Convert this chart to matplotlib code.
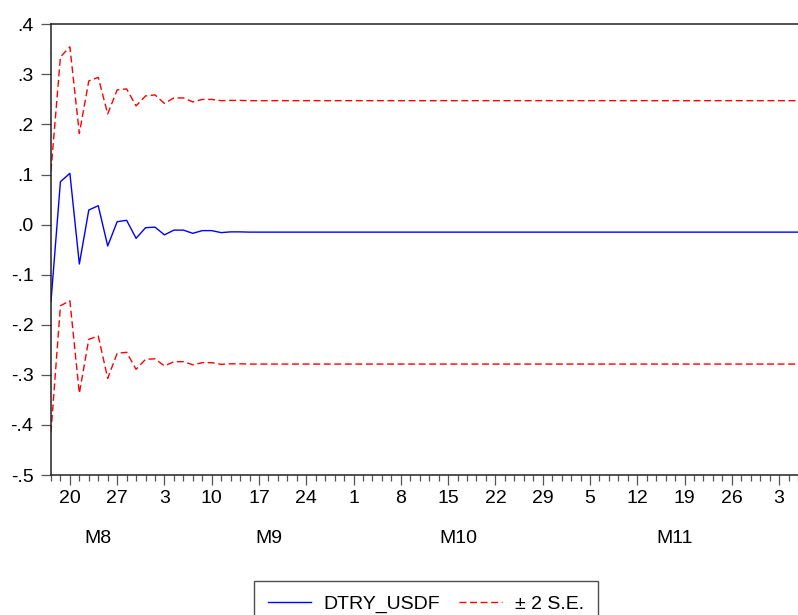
import numpy as np
import pandas as pd
import matplotlib
matplotlib.use("Agg")
import matplotlib.pyplot as plt
import matplotlib.transforms as mtransforms

plt.rcParams['font.family'] = ['Liberation Sans', 'DejaVu Sans']

# ---- data (business days starting 2018-08-16) ----
start_date = "2018-08-16"
n_obs = 80

forecast = [
    -0.154, 0.0857, 0.1024, -0.0787, 0.0292, 0.0377, -0.0427, 0.0058, 0.0086, -0.0274,
    -0.0062, -0.0050, -0.0205, -0.0110, -0.0110, -0.0174, -0.0120, -0.0120, -0.0160, -0.0145,
    -0.0145, -0.0150, -0.0150, -0.0150, -0.0150, -0.0150, -0.0150, -0.0150, -0.0150, -0.0150,
    -0.0150, -0.0150, -0.0150, -0.0150, -0.0150, -0.0150, -0.0150, -0.0150, -0.0150, -0.0150,
    -0.0150, -0.0150, -0.0150, -0.0150, -0.0150, -0.0150, -0.0150, -0.0150, -0.0150, -0.0150,
    -0.0150, -0.0150, -0.0150, -0.0150, -0.0150, -0.0150, -0.0150, -0.0150, -0.0150, -0.0150,
    -0.0150, -0.0150, -0.0150, -0.0150, -0.0150, -0.0150, -0.0150, -0.0150, -0.0150, -0.0150,
    -0.0150, -0.0150, -0.0150, -0.0150, -0.0150, -0.0150, -0.0150, -0.0150, -0.0150, -0.0150,
]

upper = [
    0.107, 0.335, 0.355, 0.182, 0.287, 0.294, 0.221, 0.269, 0.271, 0.237,
    0.257, 0.259, 0.242, 0.253, 0.253, 0.245, 0.250, 0.250, 0.2475, 0.248,
    0.248, 0.2475, 0.2475, 0.2475, 0.2475, 0.2475, 0.2475, 0.2475, 0.2475, 0.2475,
    0.2475, 0.2475, 0.2475, 0.2475, 0.2475, 0.2475, 0.2475, 0.2475, 0.2475, 0.2475,
    0.2475, 0.2475, 0.2475, 0.2475, 0.2475, 0.2475, 0.2475, 0.2475, 0.2475, 0.2475,
    0.2475, 0.2475, 0.2475, 0.2475, 0.2475, 0.2475, 0.2475, 0.2475, 0.2475, 0.2475,
    0.2475, 0.2475, 0.2475, 0.2475, 0.2475, 0.2475, 0.2475, 0.2475, 0.2475, 0.2475,
    0.2475, 0.2475, 0.2475, 0.2475, 0.2475, 0.2475, 0.2475, 0.2475, 0.2475, 0.2475,
]

lower = [
    -0.415, -0.162, -0.152, -0.337, -0.229, -0.2225, -0.307, -0.257, -0.255, -0.289,
    -0.269, -0.268, -0.2823, -0.2737, -0.2737, -0.280, -0.2757, -0.2757, -0.279, -0.278,
    -0.278, -0.2785, -0.2785, -0.2785, -0.2785, -0.2785, -0.2785, -0.2785, -0.2785, -0.2785,
    -0.2785, -0.2785, -0.2785, -0.2785, -0.2785, -0.2785, -0.2785, -0.2785, -0.2785, -0.2785,
    -0.2785, -0.2785, -0.2785, -0.2785, -0.2785, -0.2785, -0.2785, -0.2785, -0.2785, -0.2785,
    -0.2785, -0.2785, -0.2785, -0.2785, -0.2785, -0.2785, -0.2785, -0.2785, -0.2785, -0.2785,
    -0.2785, -0.2785, -0.2785, -0.2785, -0.2785, -0.2785, -0.2785, -0.2785, -0.2785, -0.2785,
    -0.2785, -0.2785, -0.2785, -0.2785, -0.2785, -0.2785, -0.2785, -0.2785, -0.2785, -0.2785,
]

y_ticks = [0.4, 0.3, 0.2, 0.1, 0.0, -0.1, -0.2, -0.3, -0.4, -0.5]
y_tick_labels = [".4", ".3", ".2", ".1", ".0", "-.1", "-.2", "-.3", "-.4", "-.5"]
month_labels = ["M8", "M9", "M10", "M11"]
series_name = "DTRY_USDF"
band_name = "\u00b1 2 S.E."

# ---- figure ----
W, H = 798, 615
FS = 14
fig = plt.figure(figsize=(W / 100, H / 100), dpi=100)
left_px, right_px, top_px, bottom_px = 50.5, 798, 24.3, 475
ax = fig.add_axes([left_px / W, 1 - bottom_px / H,
                   (right_px - left_px) / W, (bottom_px - top_px) / H])

dates = pd.bdate_range(start_date, periods=n_obs)
x = np.arange(n_obs)

dash = (0, (5.0, 2.6))
ax.plot(x, upper, color=(1, 0, 0), lw=1.0, linestyle=dash, label=band_name)
ax.plot(x, lower, color=(1, 0, 0), lw=1.0, linestyle=dash)
ax.plot(x, forecast, color=(0, 0, 1), lw=1.0, label=series_name)

px_per_obs = 9.507
ax.set_xlim(-0.05, -0.05 + (right_px - left_px) / px_per_obs)
ax.set_ylim(-0.5, 0.4)

ax.set_yticks(y_ticks)
ax.set_yticklabels(y_tick_labels)

mondays = [i for i, d in enumerate(dates) if d.weekday() == 0]
ax.set_xticks(mondays)
ax.set_xticklabels([str(dates[i].day) for i in mondays])
ax.set_xticks(x, minor=True)

tick_col = "#555555"
ax.tick_params(axis='y', which='major', length=7.3, width=0.9, color=tick_col,
               labelsize=FS, pad=5, direction='out')
ax.tick_params(axis='x', which='major', length=7.3, width=0.9, color=tick_col,
               labelsize=FS, pad=3.5, direction='out')
ax.tick_params(axis='x', which='minor', length=4.0, width=0.9, color=tick_col,
               direction='out')

for s in ['left', 'top', 'bottom']:
    ax.spines[s].set_linewidth(1.1)
    ax.spines[s].set_color('#222222')
ax.spines['right'].set_visible(False)

# month labels under the tick labels
month_pos = [5.0, 23.0, 43.1, 66.0]
trans = mtransforms.blended_transform_factory(ax.transData, ax.transAxes)
yax = (bottom_px - 538.5) / (bottom_px - top_px)
for pos, lab in zip(month_pos, month_labels):
    ax.text(pos, yax, lab, transform=trans, ha='center', va='center', fontsize=FS)

# legend
handles, labels = ax.get_legend_handles_labels()
order = [1, 0]
leg = fig.legend([handles[i] for i in order], [labels[i] for i in order],
                 loc='center', bbox_to_anchor=(426 / W, 1 - 604 / H),
                 ncol=2, frameon=True, fancybox=False, fontsize=FS,
                 handlelength=2.2, handletextpad=0.65, columnspacing=1.0,
                 borderpad=0.7, borderaxespad=0)
leg.get_frame().set_edgecolor('#222222')
leg.get_frame().set_linewidth(1.0)

fig.savefig("out.png", dpi=100)
